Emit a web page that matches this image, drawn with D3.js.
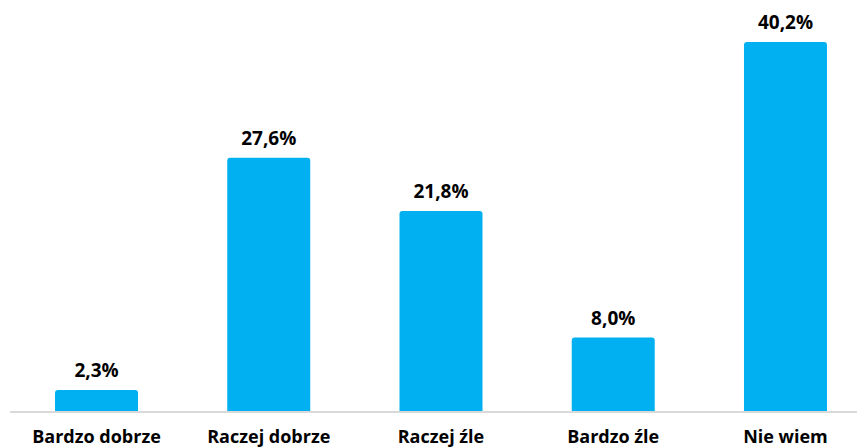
<!DOCTYPE html>
<html>
<head>
<meta charset="utf-8">
<script src="https://cdn.jsdelivr.net/npm/d3@7"></script>
<style>
  body { margin: 0; background: #fff; }
  text { font-family: "Open Sans", "DejaVu Sans", sans-serif; font-weight: bold; fill: #000; }
</style>
</head>
<body>
<svg id="chart" width="857" height="447"></svg>
<script>
// Data
const categories = ["Bardzo dobrze", "Raczej dobrze", "Raczej źle", "Bardzo źle", "Nie wiem"];
const values = [2.3, 27.6, 21.8, 8.0, 40.2];

const svg = d3.select("#chart");
const baseY = 411;

const x = d3.scaleBand()
  .domain(categories)
  .range([10.4, 871.6])
  .paddingInner(0.518)
  .paddingOuter(0.259);

const y = d3.scaleLinear()
  .domain([0, 40.2])
  .range([baseY, 42]);

const fmt = v => v.toFixed(1).replace(".", ",") + "%";

// bars with rounded top corners
function barPath(x0, y0, w, h, r) {
  return `M${x0},${y0 + h}V${y0 + r}Q${x0},${y0} ${x0 + r},${y0}H${x0 + w - r}Q${x0 + w},${y0} ${x0 + w},${y0 + r}V${y0 + h}Z`;
}

svg.selectAll(".bar")
  .data(values)
  .enter()
  .append("path")
  .attr("class", "bar")
  .attr("fill", "#00B0F0")
  .attr("d", (d, i) => barPath(x(categories[i]), y(d), x.bandwidth(), baseY - y(d), 3));

// baseline
svg.append("line")
  .attr("x1", 10).attr("x2", 857)
  .attr("y1", baseY + 1).attr("y2", baseY + 1)
  .attr("stroke", "#d9d9d9")
  .attr("stroke-width", 2);

// value labels
svg.selectAll(".val")
  .data(values)
  .enter()
  .append("text")
  .attr("class", "val")
  .attr("x", (d, i) => x(categories[i]) + x.bandwidth() / 2)
  .attr("y", d => y(d) - 13)
  .attr("text-anchor", "middle")
  .style("font-size", "19px")
  .text(fmt);

// category labels
svg.selectAll(".cat")
  .data(categories)
  .enter()
  .append("text")
  .attr("class", "cat")
  .attr("x", d => x(d) + x.bandwidth() / 2)
  .attr("y", 443)
  .attr("text-anchor", "middle")
  .style("font-size", "18px")
  .text(d => d);
</script>
</body>
</html>
